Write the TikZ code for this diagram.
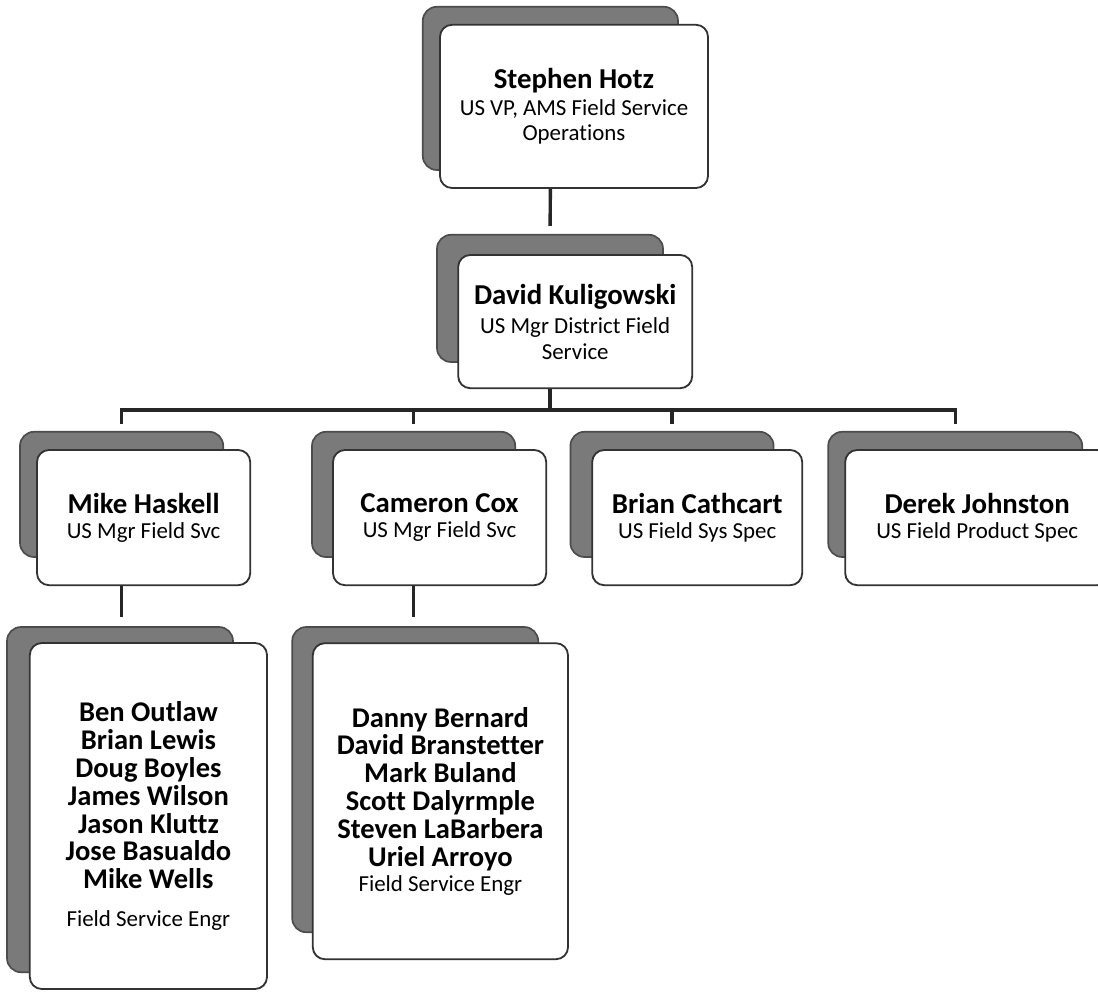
\documentclass[tikz,border=0pt]{standalone}
\usepackage{fontspec}
\setmainfont{Carlito}[Ligatures=NoCommon]
\usepackage{tikz}
\usetikzlibrary{positioning}
\newcommand{\pname}{\fontsize{20.5}{24}\selectfont\bfseries}
\newcommand{\ptitle}{\fontsize{16.3}{18}\selectfont}
\newcommand{\plist}{\fontsize{20.3}{19.8}\selectfont\bfseries}

\begin{document}
\begin{tikzpicture}[back/.style={
        draw=black!70, fill=black!52, line width=1.2pt,
        rounded corners=0.35cm, inner sep=0pt},
    card/.style={draw=black!80, fill=white, line width=1.3pt,
        rounded corners=0.3cm, inner sep=0pt, align=center, font=\ptitle},
    link/.style={line width=2.4pt, draw=black!85}]

\clip (0,0) rectangle (27.45,-24.8);
\fill[white] (0,0) rectangle (27.45,-24.8);

\node[back, minimum width=6.38cm, minimum height=4.08cm](s0) at (13.76,-2.21){};
\node[card, minimum width=6.70cm, minimum height=4.08cm](p0) at (14.35,-2.66){{\pname Stephen Hotz}\\[1pt] US VP, AMS Field Service\\ Operations};

\node[back, minimum width=5.65cm, minimum height=3.18cm](s1) at (13.75,-7.46){};
\node[card, minimum width=5.85cm, minimum height=3.33cm](p1) at (14.38,-8.04){{\pname David Kuligowski}\\[3pt] US Mgr District Field\\ Service};

\node[back, minimum width=5.08cm, minimum height=3.13cm](s2) at (3.04,-12.36){};
\node[card, minimum width=5.33cm, minimum height=3.38cm](p2) at (3.59,-12.94){{\pname Mike Haskell}\\ US Mgr Field Svc};
\node[back, minimum width=5.08cm, minimum height=3.13cm](s3) at (10.34,-12.36){};
\node[card, minimum width=5.33cm, minimum height=3.38cm](p3) at (10.99,-12.94){{\pname Cameron Cox}\\ US Mgr Field Svc};
\node[back, minimum width=5.08cm, minimum height=3.13cm](s4) at (16.8,-12.36){};
\node[card, minimum width=5.25cm, minimum height=3.38cm](p4) at (17.43,-12.94){{\pname Brian Cathcart}\\ US Field Sys Spec};
\node[back, minimum width=6.35cm, minimum height=3.13cm](s5) at (23.88,-12.36){};
\node[card, minimum width=6.6cm, minimum height=3.38cm](p5) at (24.43,-12.94){{\pname Derek Johnston}\\ US Field Product Spec};

\node[back, minimum width=5.65cm, minimum height=8.63cm](s6) at (3.0,-19.99){};
\node[card, font=\plist, minimum width=5.93cm, minimum height=8.65cm](p6) at (3.71,-20.4){Ben Outlaw\\ Brian Lewis\\ Doug Boyles\\ James Wilson\\ Jason Kluttz\\ Jose Basualdo\\ Mike Wells\\[7pt] {\mdseries\ptitle Field Service Engr}};
\node[back, minimum width=6.15cm, minimum height=7.63cm](s7) at (10.38,-19.49){};
\node[card, font=\plist, minimum width=6.38cm, minimum height=7.9cm](p7) at (11.01,-20.03){Danny Bernard\\ David Branstetter\\ Mark Buland\\ Scott Dalyrmple\\ Steven LaBarbera\\ Uriel Arroyo\\[-2pt] {\mdseries\ptitle Field Service Engr}};

% reporting lines
\coordinate (bus) at (0,-10.25);
\draw[link, shorten >=0.2cm] (s0 |- p0.south) -- (s1.north);
\draw[link] (s1 |- p1.south) -- (s1 |- bus);
\draw[link, shorten <=0.18cm, shorten >=0.18cm] (s2.north) |- (bus -| s5) -- (s5.north);
\draw[link, shorten >=0.18cm] (bus -| s3) -- (s3.north);
\draw[link, shorten >=0.18cm] (bus -| s4) -- (s4.north);
\draw[link, shorten >=0.22cm] (s2 |- p2.south) -- (s2 |- s6.north);
\draw[link, shorten >=0.22cm] (s3 |- p3.south) -- (s3 |- s7.north);

\end{tikzpicture}
\end{document}
